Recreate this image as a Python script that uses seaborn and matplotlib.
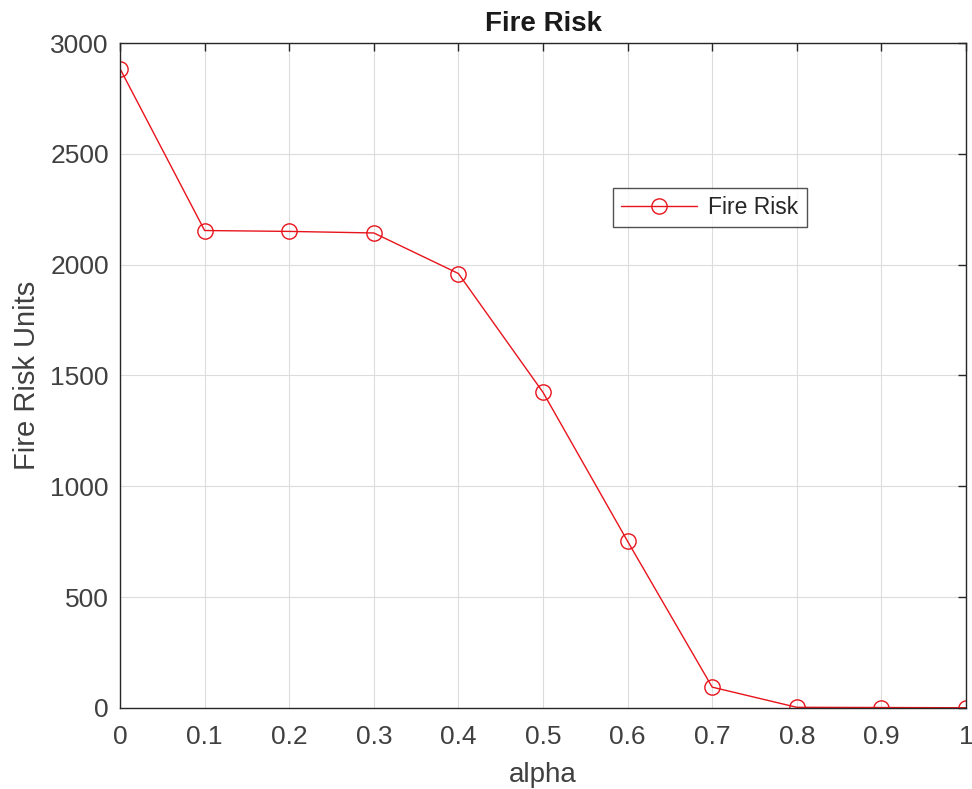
import matplotlib
matplotlib.use("Agg")
import matplotlib.pyplot as plt
import seaborn as sns
import pandas as pd

alpha = [0, 0.1, 0.2, 0.3, 0.4, 0.5, 0.6, 0.7, 0.8, 0.9, 1.0]
fire_risk = [2884, 2154, 2150, 2143, 1960, 1424, 752, 94, 3, 2, 1]
xticks = [0, 0.1, 0.2, 0.3, 0.4, 0.5, 0.6, 0.7, 0.8, 0.9, 1]
xticklabels = ["0", "0.1", "0.2", "0.3", "0.4", "0.5", "0.6", "0.7", "0.8", "0.9", "1"]
yticks = [0, 500, 1000, 1500, 2000, 2500, 3000]

df = pd.DataFrame({"alpha": alpha, "Fire Risk": fire_risk})

sns.set_style("white")
plt.rcParams['font.family'] = ['Liberation Sans', 'DejaVu Sans']

fig = plt.figure(figsize=(9.72, 7.89), dpi=100)
ax = fig.add_axes([0.1235, 0.1027, 0.8703, 0.8428])

sns.lineplot(data=df, x="alpha", y="Fire Risk", ax=ax, color="#e8141c", linewidth=1.0,
             marker="o", markersize=11, markerfacecolor="none", markeredgecolor="#e8141c",
             markeredgewidth=1.0, label="Fire Risk")

ax.set_xlim(0, 1)
ax.set_ylim(0, 3000)
ax.set_xticks(xticks)
ax.set_xticklabels(xticklabels)
ax.set_yticks(yticks)
ax.grid(True, color="#dcdcdc", linewidth=0.8)
ax.set_axisbelow(True)
for s in ax.spines.values():
    s.set_color("#262626")
    s.set_linewidth(1.0)
ax.tick_params(direction="in", length=6, width=1.0, colors="#262626", labelsize=19,
               top=True, right=True)
ax.tick_params(axis="x", pad=12)
ax.tick_params(axis="y", pad=8)
for lbl in ax.get_xticklabels() + ax.get_yticklabels():
    lbl.set_color("#404040")
ax.set_xlabel("alpha", fontsize=20, color="#404040", labelpad=9.5)
ax.set_ylabel("Fire Risk Units", fontsize=21, color="#404040", labelpad=6.5)
ax.set_title("Fire Risk", fontsize=20, fontweight="bold", color="#1a1a1a", pad=9)

leg = ax.legend(loc="center", bbox_to_anchor=(0.6974, 0.752), fontsize=16.5, frameon=True,
                fancybox=False, edgecolor="#262626", handlelength=3.3, borderpad=0.35,
                handletextpad=0.5)
leg.get_frame().set_linewidth(1.0)

fig.savefig("out.png", dpi=100)
